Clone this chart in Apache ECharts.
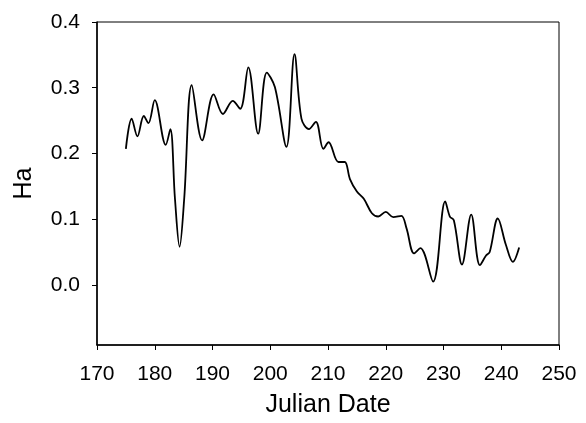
<!DOCTYPE html>
<html>
<head>
<meta charset="utf-8">
<script src="https://cdn.jsdelivr.net/npm/echarts@6/dist/echarts.min.js"></script>
<style>html,body{margin:0;padding:0;background:#fff}#c{width:586px;height:423px}</style>
</head>
<body>
<div id="c"></div>
<script>
const days = [175.0,176.0,177.0,178.1,178.9,180.0,181.9,182.7,183.5,184.3,185.1,186.4,188.2,190.2,191.8,193.5,194.8,196.2,197.9,199.4,200.8,202.8,204.2,205.4,206.7,207.9,209.2,210.1,211.8,212.9,213.8,215.0,216.2,217.6,218.7,220.0,221.3,222.7,223.6,224.9,226.0,228.2,230.3,231.1,231.8,233.2,234.8,236.3,237.4,238.0,239.4,240.8,242.0,243.1];
const ha = [0.207,0.253,0.226,0.257,0.246,0.281,0.213,0.237,0.131,0.058,0.131,0.304,0.220,0.290,0.260,0.280,0.268,0.331,0.230,0.323,0.301,0.210,0.351,0.253,0.237,0.248,0.207,0.217,0.187,0.187,0.161,0.142,0.131,0.109,0.104,0.111,0.103,0.105,0.086,0.048,0.056,0.005,0.127,0.104,0.098,0.031,0.107,0.030,0.045,0.050,0.101,0.061,0.035,0.057];
const yTicks = [0, 0.1, 0.2, 0.3, 0.4];
const xTitle = 'Julian Date';
const yTitle = 'Ha';

const chart = echarts.init(document.getElementById('c'), null, {renderer: 'canvas'});
const font = 'Liberation Sans, Arial, sans-serif';
chart.setOption({
  animation: false,
  grid: {left: 97, right: 27, top: 22, bottom: 76, show: true, borderColor: '#000', borderWidth: 1, backgroundColor: 'transparent'},
  xAxis: {
    type: 'value', min: 170, max: 250, interval: 10,
    name: xTitle, nameLocation: 'middle', nameGap: 48,
    nameTextStyle: {fontFamily: font, fontSize: 25, color: '#000'},
    axisLine: {show: true, onZero: false, lineStyle: {color: '#000', width: 1.5}},
    axisTick: {show: true, inside: false, length: 5, lineStyle: {color: '#000', width: 1}},
    axisLabel: {fontFamily: font, fontSize: 21, color: '#000', margin: 19},
    splitLine: {show: false}
  },
  yAxis: {
    type: 'value', min: -0.0915, max: 0.4,
    name: yTitle, nameLocation: 'middle', nameGap: 60,
    nameTextStyle: {fontFamily: font, fontSize: 25, color: '#000'},
    axisLine: {show: true, onZero: false, lineStyle: {color: '#000', width: 1.5}},
    axisTick: {show: true, inside: false, length: 5, customValues: yTicks, lineStyle: {color: '#000', width: 1}},
    axisLabel: {fontFamily: font, fontSize: 21, color: '#000', margin: 17, customValues: yTicks, formatter: v => v.toFixed(1)},
    splitLine: {show: false}
  },
  series: [{
    type: 'line',
    data: days.map((d, i) => [d, ha[i]]),
    smooth: 0.35,
    showSymbol: false,
    lineStyle: {color: '#000', width: 1.8}
  }]
});
</script>
</body>
</html>
